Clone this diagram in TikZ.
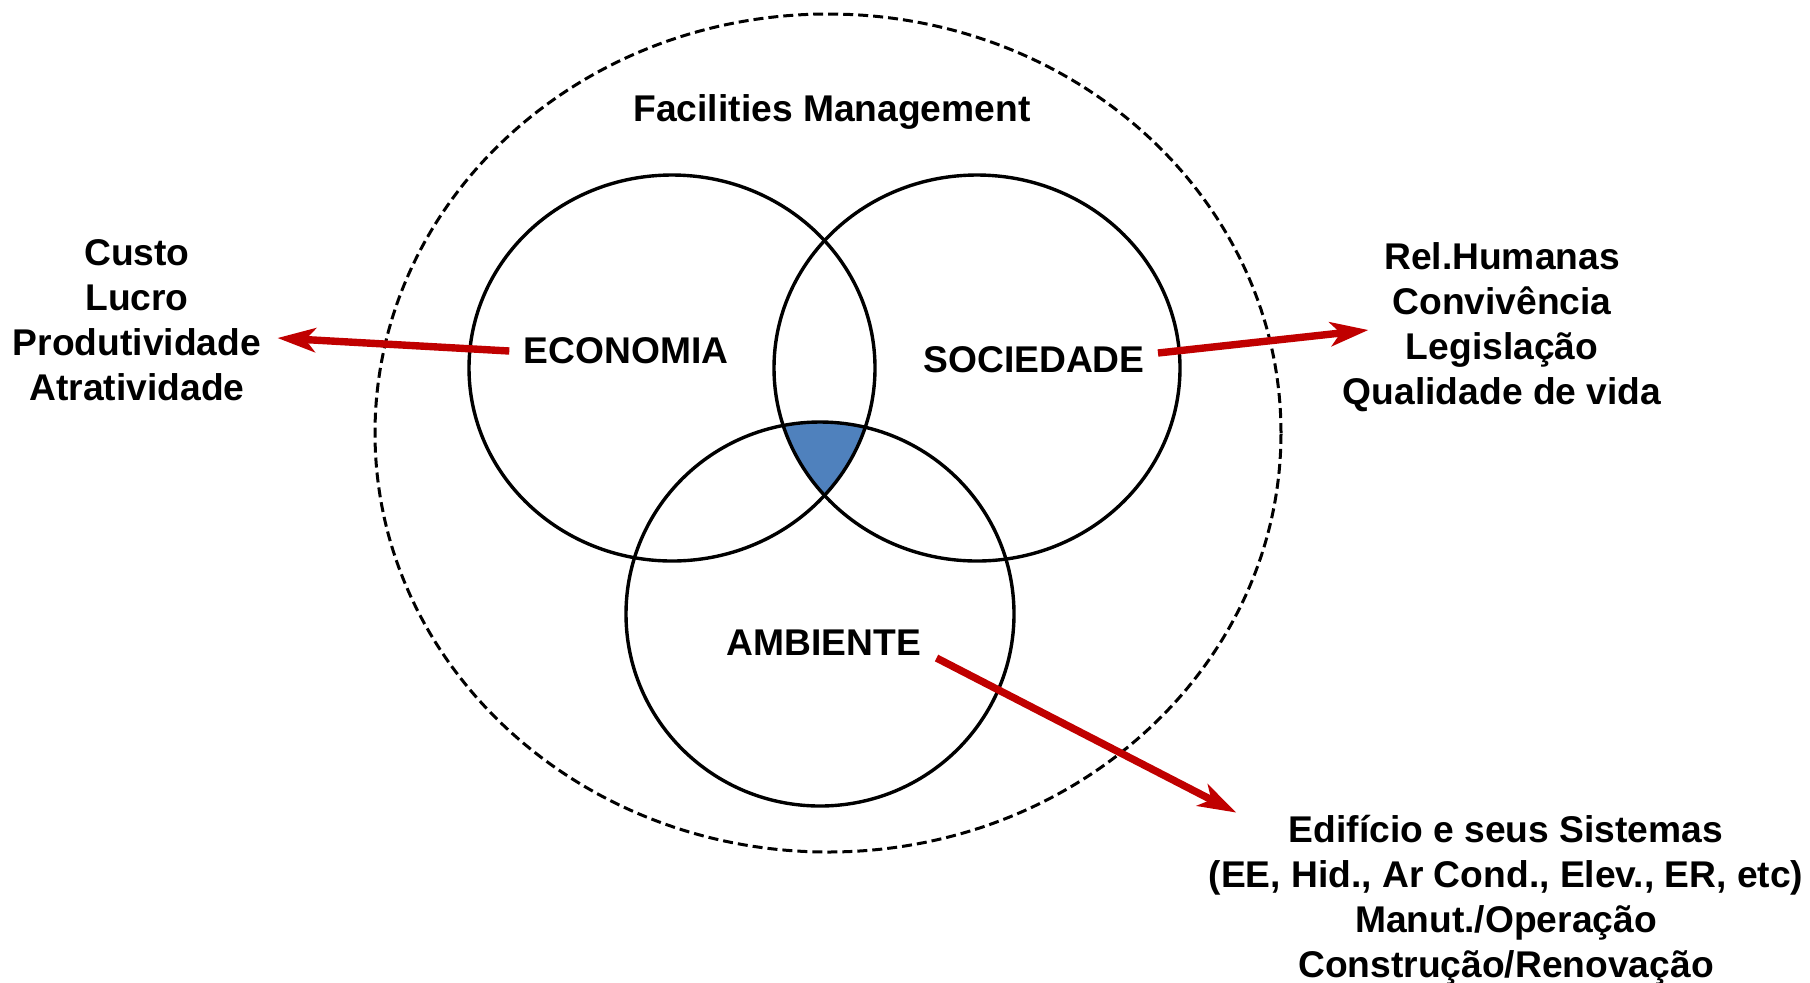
\documentclass[tikz,border=0pt]{standalone}
\usepackage{fontspec}
\setmainfont{Liberation Sans}
\usepackage{tikz}
\usetikzlibrary{arrows.meta}

\definecolor{arrowred}{HTML}{C00000}
\definecolor{coreblue}{HTML}{4F81BD}

\begin{document}
\begin{tikzpicture}[x=0.5pt, y=-0.5pt,
    every node/.style={font=\bfseries\fontsize{18.6}{22.5}\selectfont, align=center},
    ring/.style={draw, line width=1.7pt},
    link/.style={-{Stealth[length=19pt, width=12pt, inset=5pt]}, line width=3.7pt, draw=arrowred, fill=arrowred}
 ]
\useasboundingbox (0,0) rectangle (1810,982);

% common part of the three sets
\begin{scope}
  \clip (672,368) ellipse [x radius=101.5pt, y radius=96.5pt];
  \clip (977,368) ellipse [x radius=101.5pt, y radius=96.5pt];
  \fill[coreblue] (820,614) ellipse [x radius=97pt, y radius=96pt];
\end{scope}

\draw[ring, line width=1.5pt, dash pattern=on 5pt off 2.5pt] (828,433) ellipse [x radius=226.5pt, y radius=209.5pt];
\draw[ring] (672,368) ellipse [x radius=101.5pt, y radius=96.5pt];
\draw[ring] (977,368) ellipse [x radius=101.5pt, y radius=96.5pt];
\draw[ring] (820,614) ellipse [x radius=97pt, y radius=96pt];

\node (FM) at (832,112) {Facilities Management};
\node[inner sep=7pt] (Eco) at (626,351) {ECONOMIA};
\node[inner sep=6.5pt] (Soc) at (1034,360) {SOCIEDADE};
\node[inner sep=7.5pt] (Amb) at (824,643) {AMBIENTE};

\node[inner sep=8pt] (EcoL) at (137,320) {Custo\\Lucro\\Produtividade\\Atratividade};
\node[inner sep=0pt] (SocL) at (1502,327) {Rel.Humanas\\Convivência\\Legislação\\Qualidade de vida};
\node[inner sep=0pt] (AmbL) at (1506,900) {Edifício e seus Sistemas\\(EE, Hid., Ar Cond., Elev., ER, etc)\\Manut./Operação\\Construção/Renovação};

\draw[link] (Eco.west) -- ([yshift=-9pt]EcoL.east);
\draw[link] ([yshift=3.5pt]Soc.east) -- ([xshift=13pt, yshift=-1.5pt]SocL.west);
\draw[link] ([yshift=-7.5pt]Amb.east) -- ([xshift=14pt, yshift=1pt]AmbL.north west);
\end{tikzpicture}
\end{document}
